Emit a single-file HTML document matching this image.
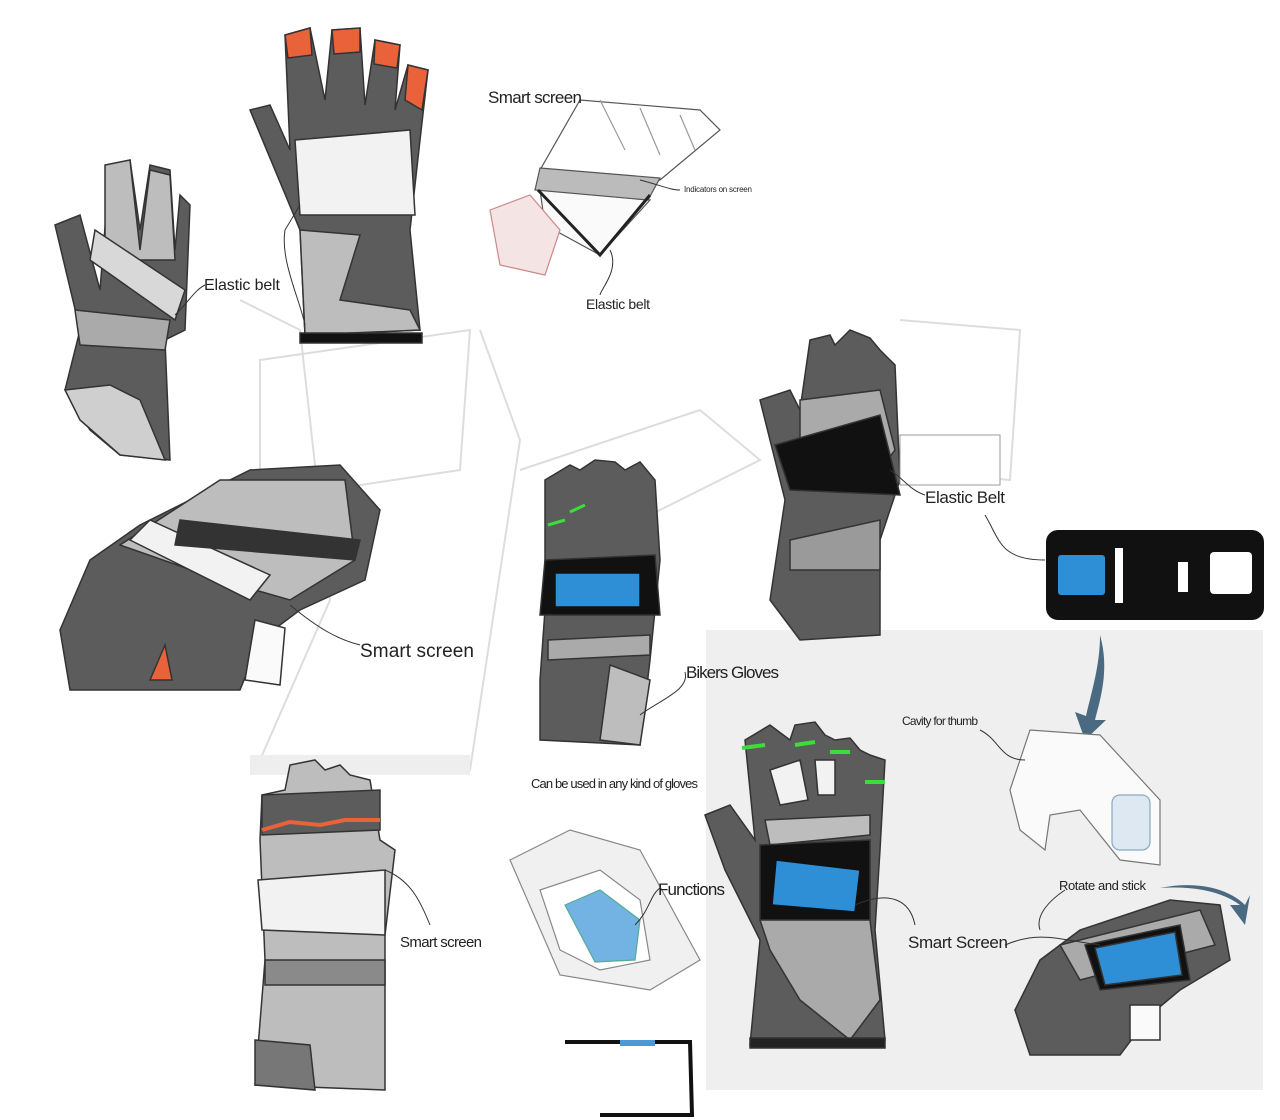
<!DOCTYPE html>
<html><head><meta charset="utf-8"><style>
html,body{margin:0;padding:0;background:#fff;}
svg{display:block}
text{font-family:"Liberation Sans",sans-serif;fill:#222}
</style></head><body>
<svg width="1280" height="1120" viewBox="0 0 1280 1120" xmlns="http://www.w3.org/2000/svg">
<rect width="1280" height="1120" fill="#fff"/>
<!-- faint background sketch -->
<g fill="none" stroke="#ddd" stroke-width="2">
<path d="M240 300 L300 330 L330 600 L260 760 L470 770 L520 440 L480 330"/>
<path d="M260 360 L470 330 L460 470 L260 500 Z"/>
<path d="M520 470 L700 410 L760 460 L560 560"/>
<path d="M900 320 L1020 330 L1010 480 L900 470"/>
</g>
<rect x="250" y="755" width="220" height="20" fill="#eee"/>
<!-- gray panel -->
<rect x="706" y="630" width="557" height="460" fill="#efefef"/>

<!-- glove 1 top-left -->
<g stroke="#333" stroke-width="1.5">
<path d="M55 225 L80 215 L100 290 L110 165 L130 160 L140 230 L150 165 L170 170 L175 250 L180 195 L190 205 L185 330 L165 340 L170 460 L120 455 L90 430 L65 390 L80 330 Z" fill="#5c5c5c"/>
<path d="M105 165 L130 160 L140 250 L150 170 L170 175 L175 260 L105 260 Z" fill="#bdbdbd"/>
<path d="M95 230 L185 290 L175 320 L90 260 Z" fill="#d8d8d8"/>
<path d="M75 310 L170 320 L165 350 L80 345 Z" fill="#aaa"/>
<path d="M65 390 L110 385 L140 400 L165 460 L120 455 L80 420 Z" fill="#cfcfcf"/>
</g>
<!-- glove 2 top center -->
<g stroke="#333" stroke-width="1.5">
<path d="M250 110 L270 105 L290 150 L285 35 L310 28 L325 100 L332 30 L360 28 L365 105 L375 40 L400 45 L395 110 L408 65 L428 70 L420 140 L410 230 L420 330 L305 335 L300 230 Z" fill="#5c5c5c"/>
<path d="M285 35 L310 28 L312 55 L288 58 Z M332 30 L360 28 L360 52 L334 54 Z M375 40 L400 45 L397 68 L374 64 Z M408 65 L428 70 L422 110 L405 100 Z" fill="#e9623a"/>
<path d="M295 140 L410 130 L415 215 L300 215 Z" fill="#f2f2f2"/>
<path d="M300 230 L360 235 L340 300 L410 310 L420 330 L305 335 Z" fill="#bdbdbd"/>
<rect x="300" y="333" width="122" height="10" fill="#111"/>
</g>
<!-- smart screen sketch -->
<g stroke="#555" stroke-width="1.2" fill="#fff">
<path d="M540 170 L660 180 L720 130 L700 110 L580 100 L540 170 Z"/>
<path d="M600 100 L625 150 M640 108 L660 155 M680 115 L695 150" fill="none" stroke="#999"/>
<path d="M540 190 L650 200 L600 255 L545 225 Z" fill="#fafafa"/>
<path d="M540 168 L660 178 L648 200 L535 190 Z" fill="#bbb"/>
<path d="M490 210 L530 195 L560 230 L545 275 L500 265 Z" fill="#f5e4e4" stroke="#c88"/>
</g>
<path d="M538 190 L600 255 L650 195" fill="none" stroke="#222" stroke-width="3"/>
<!-- horizontal glove -->
<g stroke="#333" stroke-width="1.5">
<path d="M60 630 L90 560 L140 525 L250 470 L340 465 L380 510 L365 580 L300 610 L260 640 L240 690 L70 690 Z" fill="#5c5c5c"/>
<path d="M120 545 L220 480 L345 480 L355 560 L290 600 L220 580 Z" fill="#bdbdbd"/>
<path d="M130 540 L250 600 L270 575 L150 520 Z" fill="#f2f2f2"/>
<path d="M180 520 L360 540 L355 560 L175 545 Z" fill="#333"/>
<path d="M255 620 L285 628 L280 685 L245 680 Z" fill="#fafafa"/>
<path d="M150 680 L165 645 L172 680 Z" fill="#e9623a"/>
</g>
<!-- center glove -->
<g stroke="#333" stroke-width="1.5">
<path d="M545 480 L570 465 L580 470 L595 460 L615 462 L625 470 L640 462 L655 480 L660 560 L650 660 L640 745 L540 740 L540 680 L545 610 Z" fill="#5c5c5c"/>
<path d="M545 560 L655 555 L660 615 L540 615 Z" fill="#111"/>
<rect x="555" y="573" width="85" height="34" fill="#2f8fd6" stroke="#111"/>
<path d="M548 640 L650 635 L650 655 L548 660 Z" fill="#aaa"/>
<path d="M610 665 L650 680 L640 745 L600 740 Z" fill="#bdbdbd"/>
</g>
<path d="M548 525 L565 520 M570 512 L585 505" stroke="#3ddc3d" stroke-width="3"/>
<!-- right top glove -->
<g stroke="#333" stroke-width="1.5">
<path d="M760 400 L790 390 L800 410 L810 340 L830 335 L835 345 L850 330 L870 338 L880 350 L895 365 L900 480 L880 540 L880 635 L800 640 L770 600 L785 500 Z" fill="#5c5c5c"/>
<path d="M800 400 L880 390 L895 450 L880 470 L800 470 Z" fill="#aaa"/>
<path d="M775 445 L880 415 L900 495 L790 490 Z" fill="#111"/>
<path d="M790 540 L880 520 L880 570 L790 570 Z" fill="#9a9a9a"/>
</g>
<rect x="900" y="435" width="100" height="50" fill="#fff" stroke="#999"/>
<!-- black strap -->
<rect x="1046" y="530" width="218" height="90" rx="12" fill="#111"/>
<rect x="1058" y="555" width="47" height="40" rx="3" fill="#2f8fd6"/>
<rect x="1115" y="548" width="8" height="55" fill="#fff"/>
<rect x="1178" y="562" width="10" height="30" fill="#fff"/>
<rect x="1210" y="552" width="42" height="42" rx="4" fill="#fff"/>
<!-- down arrow -->
<path d="M1100 635 C1110 670 1100 700 1095 720 L1106 720 L1085 740 L1075 712 L1086 716 C1092 690 1100 665 1100 635 Z" fill="#4a6a82"/>
<!-- big glove -->
<g stroke="#333" stroke-width="1.5">
<path d="M705 815 L730 805 L755 840 L745 740 L770 725 L790 740 L795 725 L815 722 L825 735 L835 740 L850 738 L860 750 L870 755 L885 760 L880 850 L875 930 L885 1040 L750 1045 L760 940 L725 870 Z" fill="#5c5c5c"/>
<path d="M770 770 L800 760 L808 800 L780 805 Z M815 760 L835 760 L835 795 L818 795 Z" fill="#f2f2f2"/>
<path d="M765 820 L870 815 L870 835 L770 845 Z" fill="#bdbdbd"/>
<path d="M760 845 L870 840 L870 920 L760 920 Z" fill="#111"/>
<path d="M776 860 L860 870 L855 912 L772 905 Z" fill="#2f8fd6" stroke="#111"/>
<path d="M760 920 L870 920 L880 1000 L850 1040 L800 1000 L770 950 Z" fill="#aaa"/>
<rect x="750" y="1038" width="135" height="10" fill="#222"/>
</g>
<path d="M742 748 L765 745 M795 745 L815 742 M830 752 L850 752 M865 782 L885 782" stroke="#3ddc3d" stroke-width="4"/>
<!-- cavity sketch -->
<g stroke="#777" stroke-width="1.2" fill="#fafafa">
<path d="M1010 790 L1030 730 L1100 735 L1160 800 L1160 865 L1120 860 L1080 810 L1050 815 L1045 850 L1020 830 Z"/>
<rect x="1112" y="795" width="38" height="55" rx="8" fill="#dde8f2" stroke="#8ab"/>
</g>
<!-- bottom right glove -->
<g stroke="#333" stroke-width="1.5">
<path d="M1015 1010 L1040 960 L1080 930 L1170 900 L1220 905 L1230 960 L1180 990 L1150 1015 L1120 1055 L1030 1055 Z" fill="#5c5c5c"/>
<path d="M1060 945 L1200 910 L1215 945 L1080 980 Z" fill="#aaa"/>
<path d="M1085 945 L1180 925 L1190 980 L1100 990 Z" fill="#111"/>
<path d="M1095 948 L1175 932 L1182 975 L1105 985 Z" fill="#2f8fd6"/>
<rect x="1130" y="1005" width="30" height="35" fill="#fafafa"/>
</g>
<path d="M1160 888 C1200 880 1230 890 1245 905 L1250 895 L1245 925 L1230 905 L1240 905 C1220 890 1190 886 1160 888 Z" fill="#4a6a82"/>
<!-- bottom left glove -->
<g stroke="#333" stroke-width="1.5">
<path d="M260 840 L262 795 L285 790 L290 765 L315 760 L325 770 L340 765 L350 775 L370 780 L380 840 L395 850 L385 935 L385 1090 L255 1085 L265 960 Z" fill="#bdbdbd"/>
<path d="M262 795 L380 790 L380 830 L262 835 Z" fill="#5c5c5c"/>
<path d="M262 830 L290 822 L320 825 L345 820 L380 820" stroke="#e9623a" stroke-width="4" fill="none"/>
<path d="M258 880 L385 870 L385 935 L262 930 Z" fill="#f2f2f2"/>
<rect x="265" y="960" width="120" height="25" fill="#8a8a8a"/>
<path d="M255 1040 L310 1045 L315 1090 L255 1085 Z" fill="#777"/>
</g>
<!-- functions device -->
<g stroke="#888" stroke-width="1.2">
<path d="M510 860 L570 830 L640 850 L700 960 L650 990 L560 975 Z" fill="#f0f0f0"/>
<path d="M540 890 L600 870 L640 900 L650 960 L600 970 L560 950 Z" fill="#fff"/>
<path d="M565 905 L600 890 L640 920 L635 960 L595 962 Z" fill="#72b3e4" stroke="#5a9"/>
</g>
<!-- bottom bracket -->
<path d="M565 1042 L690 1042 L692 1115 L600 1115" fill="none" stroke="#111" stroke-width="4"/>
<rect x="620" y="1040" width="35" height="6" fill="#4a9ad8"/>
<!-- leader lines -->
<g fill="none" stroke="#333" stroke-width="1">
<path d="M175 315 C190 300 195 290 205 285"/>
<path d="M300 205 L285 230 C280 260 300 300 305 325"/>
<path d="M640 180 C660 185 670 190 680 190"/>
<path d="M610 250 C620 270 600 290 600 295"/>
<path d="M290 605 C320 630 340 640 360 645"/>
<path d="M890 470 C905 480 910 490 925 495"/>
<path d="M985 515 C1000 540 1000 560 1045 560"/>
<path d="M640 715 C660 700 690 690 685 672"/>
<path d="M980 730 C1000 740 1000 760 1025 760"/>
<path d="M855 905 C890 890 910 900 915 925"/>
<path d="M1005 945 C1040 930 1060 940 1100 945"/>
<path d="M1065 890 C1050 900 1035 915 1040 930"/>
<path d="M385 870 C410 880 420 900 430 925"/>
<path d="M635 925 C650 910 650 895 660 888"/>
</g>
<!-- labels -->
<text x="204" y="290" font-size="16" textLength="76">Elastic belt</text>
<text x="488" y="103" font-size="17" textLength="94">Smart screen</text>
<text x="684" y="192" font-size="8" textLength="68">Indicators on screen</text>
<text x="586" y="309" font-size="14" textLength="64">Elastic belt</text>
<text x="360" y="657" font-size="19" textLength="114">Smart screen</text>
<text x="925" y="503" font-size="17" textLength="80">Elastic Belt</text>
<text x="686" y="678" font-size="17" textLength="93">Bikers Gloves</text>
<text x="902" y="725" font-size="12" textLength="76">Cavity for thumb</text>
<text x="531" y="788" font-size="13" textLength="167">Can be used in any kind of gloves</text>
<text x="658" y="895" font-size="17" textLength="67">Functions</text>
<text x="1059" y="890" font-size="13" textLength="87">Rotate and stick</text>
<text x="908" y="948" font-size="17" textLength="100">Smart Screen</text>
<text x="400" y="947" font-size="15" fill="#777" textLength="82">Smart screen</text>
</svg>
</body></html>
